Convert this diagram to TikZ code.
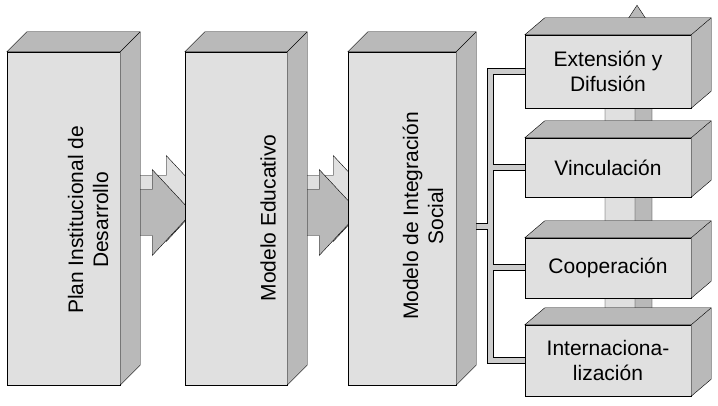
\documentclass[tikz,border=0pt]{standalone}
\usepackage{fontspec}
\setmainfont{Liberation Sans}
\usetikzlibrary{calc}
\pgfdeclarelayer{background}
\pgfsetlayers{background,main}
% top and right faces of a box node
\newcommand{\depthfaces}[3]{%
  \filldraw[sideface] (#1.north west) -- ++(#2,-#3) -- ($(#1.north east)+(#2,-#3)$)
    -- ($(#1.south east)+(#2,-#3)$) -- (#1.south east) -- (#1.north east) -- cycle;
  \draw[thin] (#1.north east) -- ++(#2,-#3);}

\begin{document}
\begin{tikzpicture}[x=1pt,y=-1pt,
  block/.style={rectangle,draw=black,thin,fill=gray!24,inner sep=0pt},
  sideface/.style={draw=black,thin,fill=gray!55},
  lightface/.style={draw=black,thin,fill=gray!24},
  darkface/.style={draw=black,thin,fill=gray!55},
  lbl/.style={font=\fontsize{21}{25}\selectfont,align=center,inner sep=0pt}]
\useasboundingbox (0,0) rectangle (718,406);
% big blocks
\node[block,minimum width=113pt,minimum height=333pt] (pid) at (63.5,218.5) {};
\node[block,minimum width=102pt,minimum height=333pt] (me) at (236,218.5) {};
\node[block,minimum width=108pt,minimum height=333pt] (mis) at (402,218.5) {};
\foreach \b in {pid,me,mis} {\depthfaces{\b}{20}{20}}
\node[lbl,rotate=90] (pidtxt) at (88,220) {Plan Institucional de\\Desarrollo};
\node[lbl,rotate=90] (metxt) at (268,218) {Modelo Educativo};
\node[lbl,rotate=90] (mistxt) at (423,216) {Modelo de Integración\\Social};
% small boxes
\node[block,lbl,minimum width=166pt,minimum height=73pt] (ext) at (608,71.5) {Extensión y\\Difusión};
\node[block,lbl,minimum width=166pt,minimum height=59pt] (vin) at (608,167.5) {Vinculación};
\node[block,lbl,minimum width=166pt,minimum height=60pt] (coop) at (608,268) {Cooperación};
\node[block,lbl,minimum width=166pt,minimum height=71pt] (intl) at (608,360.5) {Internaciona-\\lización};
\foreach \b in {ext,vin,coop,intl} {\depthfaces{\b}{20}{17}}

\begin{pgfonlayer}{background}
% arrows between the blocks
\foreach \s in {pid,me} {
  \coordinate (t) at ($(\s.east)+(0,-6)$);
  \foreach \d/\st in {14/lightface,0/darkface}
    \filldraw[\st] ($(t)+(\d,-\d)$) ++(0,23) -- ++(32,0) -- ++(0,20) -- ++(40,-43)
      -- ++(-40,-43) -- ++(0,20) -- ++(-32,0) -- cycle;
}
% arrow behind the small boxes
\coordinate (va) at ($(intl.south)+(-3,-4)$);
\foreach \d/\st in {17/darkface,0/lightface}
  \filldraw[\st] ($(va)+(\d,-0.88*\d)$) -- ++(0,-337) -- ++(-8,0) -- ++(23,-35)
    -- ++(23,35) -- ++(-8,0) -- ++(0,337) -- cycle;
% bracket
\coordinate (bar) at (490,0);
\coordinate (misout) at ($(mis.east)+(14,8)$);
\foreach \lw/\c in {7pt/black,5pt/gray!40}
  \draw[line width=\lw,draw=\c] (ext.west) -- (ext.west -| bar) -- (intl.west -| bar) -- (intl.west)
    (vin.west) -- (vin.west -| bar) (coop.west) -- (coop.west -| bar) (misout) -- (misout -| bar);
\end{pgfonlayer}
\end{tikzpicture}
\end{document}
